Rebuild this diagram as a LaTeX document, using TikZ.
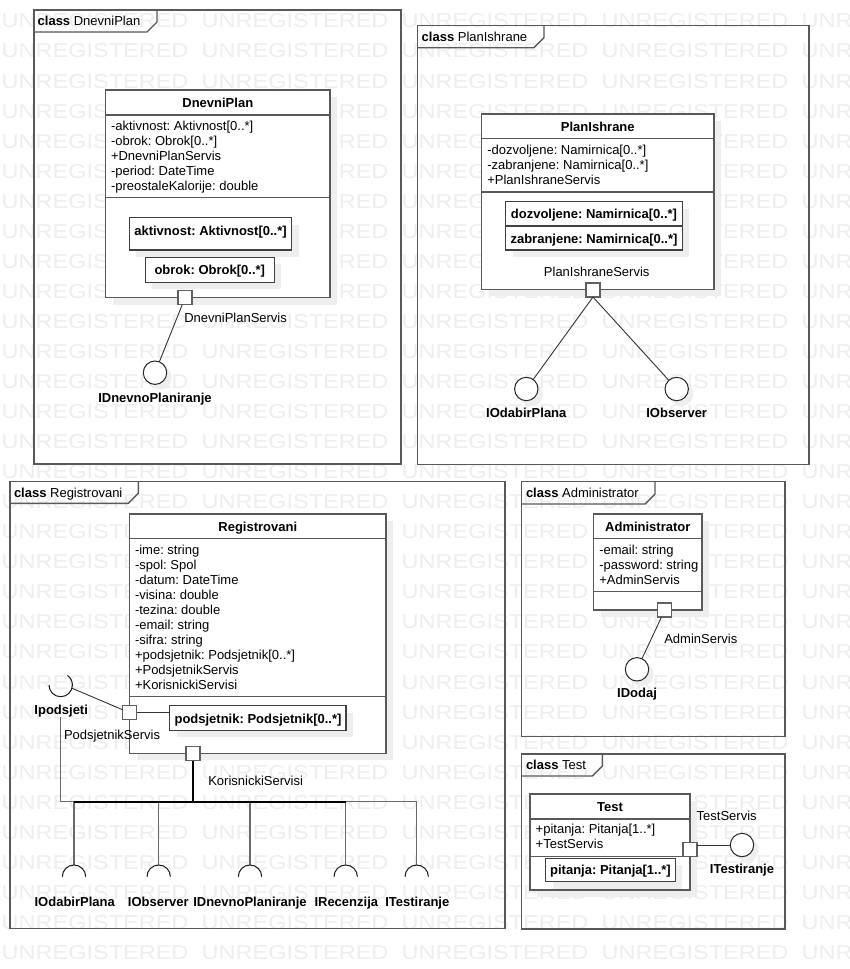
\documentclass[tikz,border=0pt]{standalone}
\usepackage{fontspec}
\setmainfont{Liberation Sans}
\usepackage{graphicx}
\usetikzlibrary{shadows}
\frenchspacing
\definecolor{bordergray}{HTML}{595959}
\definecolor{partgray}{HTML}{404040}
\definecolor{portgray}{HTML}{606060}
\definecolor{branchgray}{HTML}{6A6A6A}
\definecolor{shd}{HTML}{EEEEEE}
\definecolor{wmcol}{HTML}{EEEEEE}
\newcommand\fsn{\fontsize{13}{15}\selectfont}
\begin{document}
\begin{tikzpicture}[x=1pt,y=-1pt,
  every node/.style={inner sep=0pt, outer sep=0pt},
  txt/.style={font=\fsn, anchor=base west},
  btxt/.style={font=\fsn\bfseries, anchor=base},
  frm/.style={draw=bordergray, line width=1.4pt},
  cls/.style={draw=bordergray, line width=1.4pt, fill=white, anchor=north west, general shadow={fill=shd, shadow xshift=7pt, shadow yshift=-7pt}},
  part/.style={draw=partgray, line width=1.5pt, fill=white, anchor=north west, general shadow={fill=shd, shadow xshift=7pt, shadow yshift=-7pt}},
  sep/.style={draw=bordergray, line width=1.4pt},
  port/.style={draw=portgray, line width=1.3pt, fill=white, minimum size=14pt},
  iface/.style={circle, draw=black!85, line width=1pt, fill=white, minimum size=23.4pt, general shadow={fill=shd, shadow xshift=5pt, shadow yshift=-5pt}},
  conn/.style={draw=black!80, line width=0.9pt},
  branch/.style={draw=branchgray, line width=1.3pt},
  bus/.style={draw=black, line width=1.8pt},
  sockarc/.style={draw=black!90, line width=1pt},
  wmk/.style={text=wmcol, font=\fontsize{20}{20}\selectfont, anchor=base west},
]
\useasboundingbox (0,0) rectangle (849,969);
\fill[white] (0,0) rectangle (849,969);
% watermark
\foreach \r in {0,...,31}{
  \foreach \c in {0,...,4}{
    \node[wmk] (wm-\r-\c) at ({1.7+200*\c},{27.9+30.05*\r}) {\scalebox{1.175}[1]{UNREGISTERED}};
  }
}

% ===== Frame DnevniPlan =====
\draw[frm] (34,10) rectangle (401,464);
\draw[frm] (34,32) -- (147,32) -- (157,22) -- (157,10);
\node[txt] (f1) at (37.7,25.3) {\textbf{class} DnevniPlan};

\node[cls, minimum width=224.3pt, minimum height=207.7pt] (dp) at (105.7,90) {};
\draw[sep] (105.7,115) -- (330,115);
\draw[sep] (105.7,197.7) -- (330,197.7);
\node[btxt] (dpt) at (217.8,107) {DnevniPlan};
\foreach \t [count=\i from 0] in {-aktivnost: Aktivnost[0..*],-obrok: Obrok[0..*],+DnevniPlanServis,-period: DateTime,-preostaleKalorije: double}{
  \node[txt] (dpa\i) at (111,{130.3+15*\i}) {\t};
}
\node[part, minimum width=162.4pt, minimum height=32.3pt] (dpa) at (129.3,217.7) {};
\node[btxt] (dpat) at (210.5,235) {aktivnost: Aktivnost[0..*]};
\node[part, minimum width=129pt, minimum height=25pt] (dpo) at (145.3,257.3) {};
\node[btxt] (dpot) at (209.8,274.3) {obrok: Obrok[0..*]};

\node[iface] (idp) at (155,372.7) {};
\node[port] (dpp) at (185,297.7) {};
\draw[conn] (dpp) -- (idp);
\node[txt] (dppl) at (184.3,322.6) {DnevniPlanServis};
\node[btxt] (idpl) at (155,402) {IDnevnoPlaniranje};

% ===== Frame PlanIshrane =====
\draw[frm] (417.3,25.7) rectangle (809,464.3);
\draw[frm] (417.3,47.7) -- (534,47.7) -- (544,37.7) -- (544,25.7);
\node[txt] (f2) at (421.7,41) {\textbf{class} PlanIshrane};

\node[cls, minimum width=232.3pt, minimum height=175.3pt] (pi) at (481.7,114) {};
\draw[sep] (481.7,138.7) -- (714,138.7);
\draw[sep] (481.7,192) -- (714,192);
\node[btxt] (pit) at (597.8,131) {PlanIshrane};
\foreach \t [count=\i from 0] in {-dozvoljene: Namirnica[0..*],-zabranjene: Namirnica[0..*],+PlanIshraneServis}{
  \node[txt] (pia\i) at (487.3,{154.3+15*\i}) {\t};
}
\node[part, minimum width=176.6pt, minimum height=24.3pt] (pid) at (505.7,201.7) {};
\node[part, minimum width=176.6pt, minimum height=24pt] (piz) at (505.7,226) {};
\node[btxt] (pidt) at (594,218.6) {dozvoljene: Namirnica[0..*]};
\node[btxt] (pizt) at (594,243) {zabranjene: Namirnica[0..*]};
\node[font=\fsn, anchor=base] (pipl) at (596.7,276) {PlanIshraneServis};

\node[iface] (iop) at (526.3,389) {};
\node[iface] (iob) at (676.7,389) {};
\node[port] (pip) at (593,290) {};
\draw[conn] (pip.south) -- (iop);
\draw[conn] (pip.south) -- (iob);
\node[btxt] (iopl) at (526.3,417.6) {IOdabirPlana};
\node[btxt] (iobl) at (676.7,417.6) {IObserver};

% ===== Frame Registrovani =====
\draw[frm] (10,481.7) rectangle (505,928.3);
\draw[frm] (10,503.3) -- (128.3,503.3) -- (138.3,493.3) -- (138.3,481.7);
\node[txt] (f3) at (14,497) {\textbf{class} Registrovani};

\node[cls, minimum width=256.3pt, minimum height=239.3pt] (rg) at (129.7,514) {};
\draw[sep] (129.7,538.3) -- (386,538.3);
\draw[sep] (129.7,696.7) -- (386,696.7);
\node[btxt] (rgt) at (257.8,531) {Registrovani};
\foreach \t [count=\i from 0] in {-ime: string,-spol: Spol,-datum: DateTime,-visina: double,-tezina: double,-email: string,-sifra: string,+podsjetnik: Podsjetnik[0..*],+PodsjetnikServis,+KorisnickiServisi}{
  \node[txt] (rga\i) at (135,{554.3+15*\i}) {\t};
}
\node[part, minimum width=176.3pt, minimum height=24.6pt] (rgp) at (169.7,705.7) {};
\node[btxt] (rgpt) at (258,723) {podsjetnik: Podsjetnik[0..*]};

% interface bus
\coordinate (hj) at (60.7,801.7);
\coordinate (ipb) at (60.7,717);
\coordinate (s1) at (74,865);
\coordinate (s2) at (158.7,865);
\coordinate (s3) at (250,865);
\coordinate (s4) at (345.7,865);
\coordinate (s5) at (416.7,865);
\draw[branch] (ipb) -- (hj) -- (s5 |- hj) -- (s5);
\foreach \s in {s1,s2,s3,s4}{ \draw[branch] (\s |- hj) -- (\s); }
\foreach \s in {s1,s2,s3,s4,s5}{ \draw[sockarc] (\s) ++(11.7,11.7) arc[start angle=0, end angle=180, radius=11.7pt]; }
\draw[bus] (s1 |- hj) -- (s4 |- hj);

\node[port] (psp) at (129.8,712.8) {};
\node[port] (ksp) at (193,753.8) {};
\draw[bus] (ksp) -- (ksp |- hj);
\draw[conn] (psp) -- (psp -| rgp.west);
\coordinate (ipc) at (60.7,685);
\coordinate (ips) at (72,688.2);
\draw[sockarc] (ipc) ++(-11.7,0) arc[start angle=180, end angle=415, radius=11.7pt];
\draw[conn] (psp) -- (ips);

\node[btxt] (ipl) at (61.2,714.3) {Ipodsjeti};
\node[txt] (pspl) at (64,739.3) {PodsjetnikServis};
\node[txt] (kspl) at (208.3,785) {KorisnickiServisi};
\node[btxt] (s1l) at (74.7,906) {IOdabirPlana};
\node[btxt] (s2l) at (158.3,906) {IObserver};
\node[btxt] (s3l) at (250,906) {IDnevnoPlaniranje};
\node[btxt] (s4l) at (346.3,906) {IRecenzija};
\node[btxt] (s5l) at (417.3,906) {ITestiranje};

% ===== Frame Administrator =====
\draw[frm] (521.7,481.7) rectangle (785,736.7);
\draw[frm] (521.7,504) -- (645,504) -- (655,494) -- (655,481.7);
\node[txt] (f4) at (526,497) {\textbf{class} Administrator};

\node[cls, minimum width=108.3pt, minimum height=96pt] (ad) at (593.7,514) {};
\draw[sep] (593.7,538.3) -- (702,538.3);
\draw[sep] (593.7,591.7) -- (702,591.7);
\node[btxt] (adt) at (647.8,531) {Administrator};
\foreach \t [count=\i from 0] in {-email: string,-password: string,+AdminServis}{
  \node[txt] (ada\i) at (599.3,{554.3+15*\i}) {\t};
}
\node[iface] (idj) at (637,669.3) {};
\node[port] (adp) at (664.8,610) {};
\draw[conn] (adp) -- (idj);
\node[txt] (adpl) at (664.3,643.6) {AdminServis};
\node[btxt] (idjl) at (637,697.6) {IDodaj};

% ===== Frame Test =====
\draw[frm] (521.7,754) rectangle (785,929);
\draw[frm] (521.7,776) -- (592.3,776) -- (602.3,766) -- (602.3,754);
\node[txt] (f5) at (526,769.3) {\textbf{class} Test};

\node[cls, minimum width=160pt, minimum height=96pt] (ts) at (530,794) {};
\draw[sep] (530,819) -- (690,819);
\draw[sep] (530,856.7) -- (690,856.7);
\node[btxt] (tst) at (610,811) {Test};
\foreach \t [count=\i from 0] in {+pitanja: Pitanja[1..*],+TestServis}{
  \node[txt] (tsa\i) at (535.7,{833.6+15*\i}) {\t};
}
\node[part, minimum width=129.6pt, minimum height=23.4pt] (tsp) at (545.7,858.3) {};
\node[btxt] (tspt) at (610.5,874.6) {pitanja: Pitanja[1..*]};
\node[iface] (its) at (742,845) {};
\node[port] (tpo) at (690,849.7) {};
\draw[conn] (its.west -| tpo.east) -- (its.west);
\node[txt] (tpol) at (696.7,820) {TestServis};
\node[btxt] (itsl) at (742,873.6) {ITestiranje};
\end{tikzpicture}
\end{document}
